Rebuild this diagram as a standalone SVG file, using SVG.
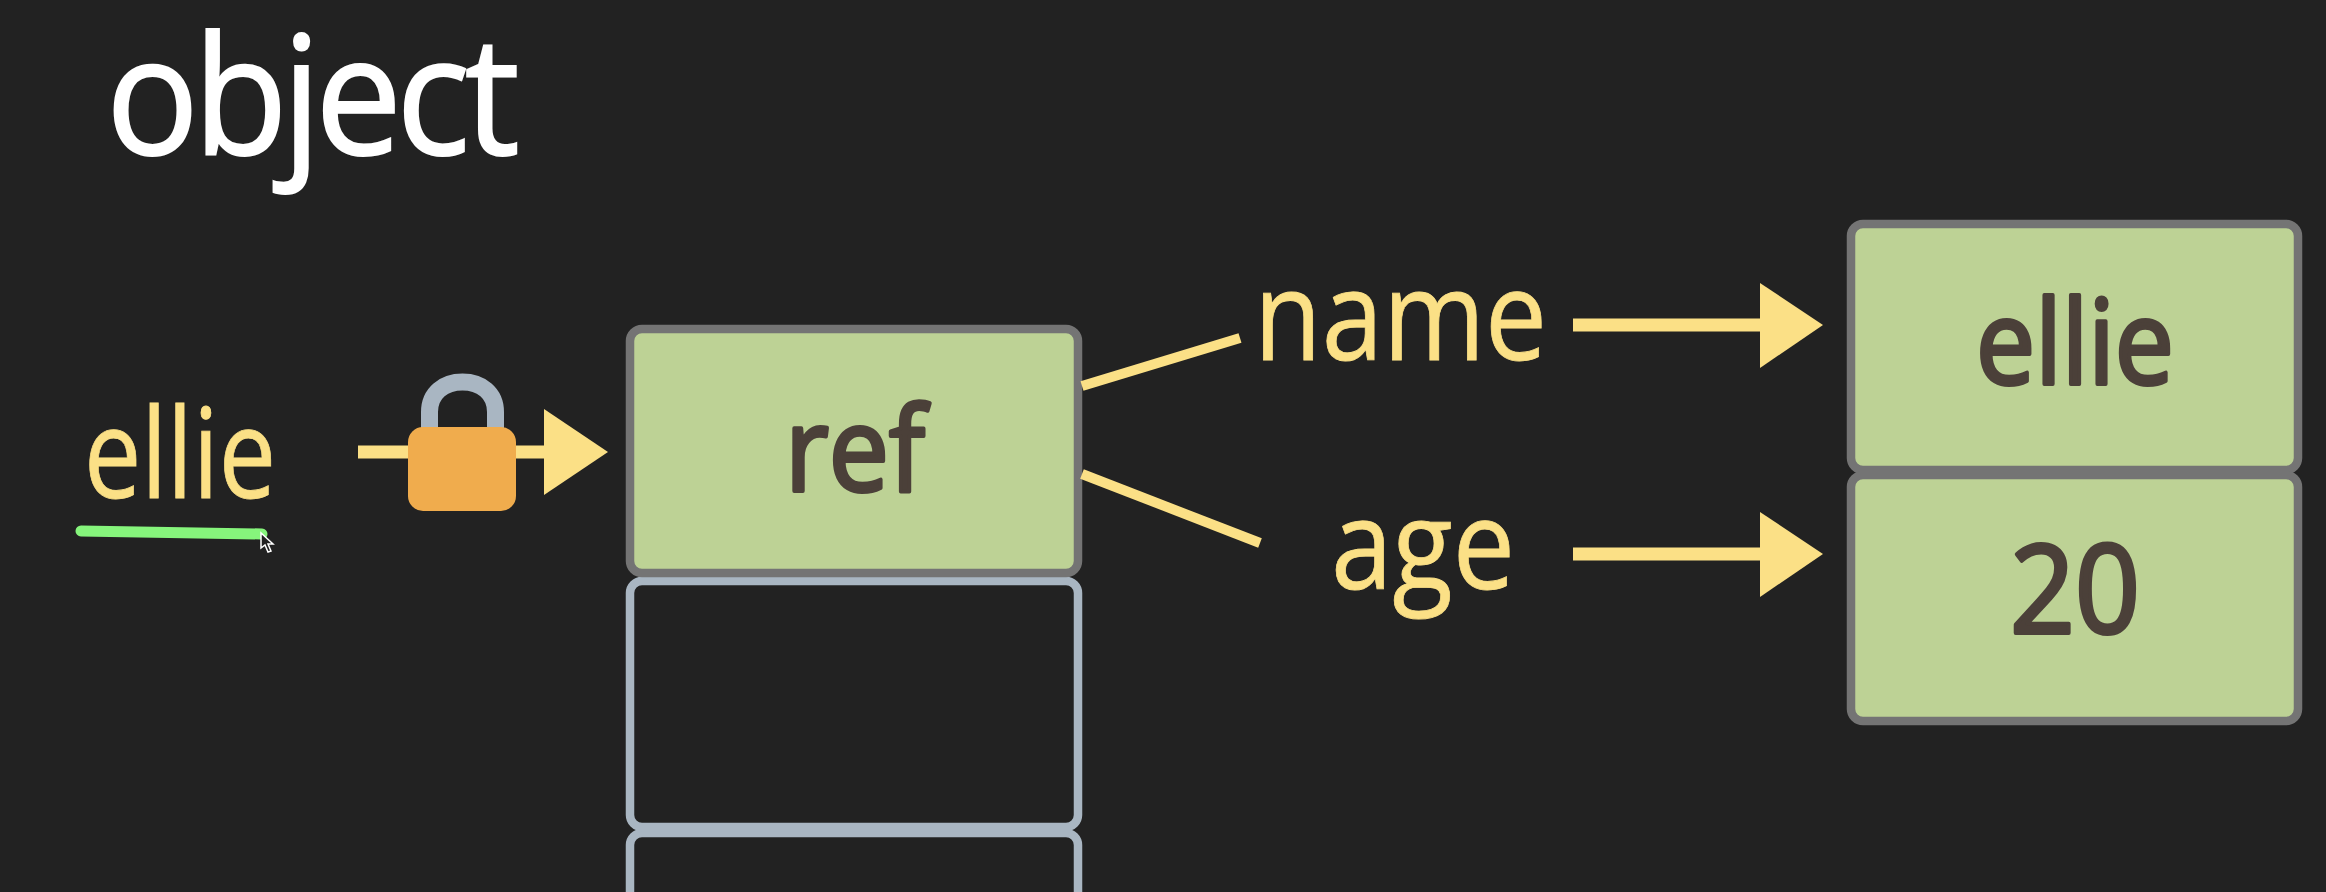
<svg xmlns="http://www.w3.org/2000/svg" width="2326" height="892" viewBox="0 0 2326 892">
<defs><style>
.t{font-family:"Open Sans","Noto Sans","Liberation Sans",sans-serif;}
.y{fill:#fbe086;stroke:#fbe086;stroke-width:0.800;font-size:124px;}
.d{fill:#4b4039;stroke:#4b4039;stroke-width:4;stroke-linejoin:round;font-size:118px;text-anchor:middle;}
.g{fill:#bdd295;stroke:#747474;stroke-width:8.500;}
.e{fill:#222222;stroke:#a9b6c2;stroke-width:8.500;}
.l{stroke:#fbe086;stroke-width:13;fill:none;}
.s{stroke:#fbe086;stroke-width:10;fill:none;}
.h{fill:#fbe086;}
</style></defs>
<rect width="2326" height="892" fill="#222222"/>
<g id="title"><text class="t" x="106" y="154" font-size="164" letter-spacing="-6" textLength="408" lengthAdjust="spacingAndGlyphs" fill="#ffffff" stroke="#ffffff" stroke-width="2">object</text></g>
<g id="cell-empty-2"><rect class="e" x="630" y="833" width="448" height="100" rx="12"/></g>
<g id="cell-empty-1"><rect class="e" x="630" y="581" width="448" height="246" rx="12"/></g>
<g id="cell-ref"><rect class="g" x="630" y="329" width="448" height="244" rx="12"/><text class="t d" x="855" y="491" textLength="140" lengthAdjust="spacingAndGlyphs">ref</text></g>
<g id="cell-name"><rect class="g" x="1851" y="224" width="447" height="246" rx="12"/><text class="t d" x="2075" y="384" textLength="198" lengthAdjust="spacingAndGlyphs">ellie</text></g>
<g id="cell-age"><rect class="g" x="1851" y="475" width="447" height="246" rx="12"/><text class="t d" x="2075" y="633" textLength="130" lengthAdjust="spacingAndGlyphs" style="font-size:122px">20</text></g>
<g id="var-ellie"><text class="t y" x="84" y="498" textLength="192" lengthAdjust="spacingAndGlyphs">ellie</text></g>
<g id="key-name"><text class="t y" x="1254" y="360" textLength="293" lengthAdjust="spacingAndGlyphs">name</text></g>
<g id="key-age"><text class="t y" x="1331" y="589" textLength="184" lengthAdjust="spacingAndGlyphs">age</text></g>
<g id="underline"><line x1="81" y1="531" x2="262" y2="534" stroke="#86f57c" stroke-width="11" stroke-linecap="round"/></g>
<g id="connectors">
<line class="l" x1="358" y1="452" x2="545" y2="452"/><polygon class="h" points="544,409 608,452 544,495"/>
<line class="s" x1="1082" y1="386" x2="1240" y2="338"/>
<line class="s" x1="1082" y1="474" x2="1260" y2="543"/>
<line class="l" x1="1573" y1="325" x2="1761" y2="325"/><polygon class="h" points="1760,283 1823,325 1760,368"/>
<line class="l" x1="1573" y1="554" x2="1761" y2="554"/><polygon class="h" points="1760,512 1823,554 1760,597"/>
</g>
<g id="lock">
<path d="M429.500 430V412C429.500 393 444 382 462.500 382S495.500 393 495.500 412V430" fill="none" stroke="#a9b6c2" stroke-width="17"/>
<rect x="408" y="427" width="108" height="84" rx="15" fill="#f0ac4d"/>
</g>
<g id="cursor"><polygon points="261,533 261,548 265,545 268,552 271,551 268,544 273,544" fill="#222222" stroke="#ffffff" stroke-width="1.500"/></g>
</svg>
